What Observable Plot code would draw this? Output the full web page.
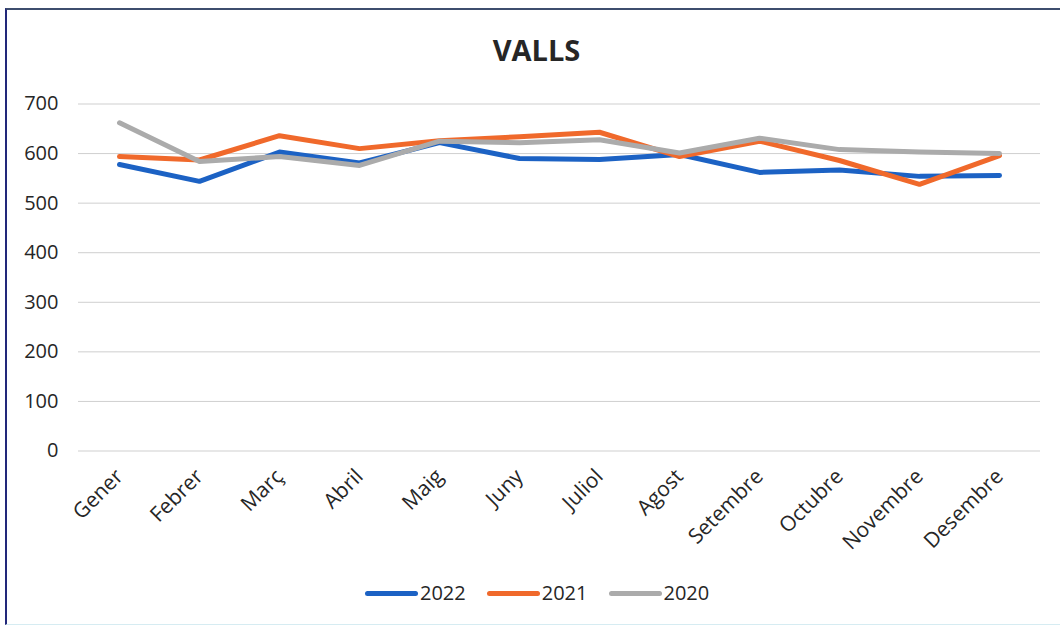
<!DOCTYPE html>
<html>
<head>
<meta charset="utf-8">
<script src="https://cdn.jsdelivr.net/npm/d3@7"></script>
<script src="https://cdn.jsdelivr.net/npm/@observablehq/plot@0.6"></script>
<style>
  html, body { margin: 0; padding: 0; background: #fff; }
  #page { position: relative; width: 1060px; height: 628px; overflow: hidden; background: #fff;
          font-family: "Open Sans", "Liberation Sans", sans-serif; color: #262626; }
  #frame { position: absolute; left: 5px; top: 8px; width: 1055px; height: 617px;
           border-left: 2px solid #22287a; border-top: 2px solid #3e4d6e;
           border-bottom: 1px solid #d6ecf2; box-sizing: border-box; }
  #title { position: absolute; left: 0; top: 35px; width: 1073px; text-align: center;
           font-size: 29px; line-height: 30px; font-weight: 700; color: #262626; }
  #chart { position: absolute; left: 0; top: 0; }
  #legend { position: absolute; left: 365px; top: 580px; display: flex; align-items: center;
            font-size: 20px; line-height: 26px; color: #262626; }
  .item { display: flex; align-items: center; margin-right: 21px; }
  .swatch { width: 53px; height: 5px; border-radius: 2.5px; margin-right: 2px; }
</style>
</head>
<body>
<div id="page">
  <div id="frame"></div>
  <div id="chart"></div>
  <div id="title">VALLS</div>
  <div id="legend"></div>
</div>
<script>
// Months on the x axis
const months = ["Gener", "Febrer", "Març", "Abril", "Maig", "Juny", "Juliol",
                "Agost", "Setembre", "Octubre", "Novembre", "Desembre"];

// Monthly values per year
const values2022 = [578, 544, 603, 581, 622, 590, 588, 598, 562, 567, 554, 556];
const values2021 = [594, 587, 636, 610, 626, 634, 643, 594, 625, 586, 538, 596];
const values2020 = [662, 584, 594, 576, 625, 622, 628, 601, 631, 608, 603, 600];

// Series names and colours
const years = ["2022", "2021", "2020"];
const colors = ["#1c62c4", "#f0692b", "#ababab"];

// Y axis ticks
const yTicks = [0, 100, 200, 300, 400, 500, 600, 700];

const seriesValues = [values2022, values2021, values2020];
const rows = years.flatMap((year, i) =>
  months.map((month, j) => ({ year, month, value: seriesValues[i][j] }))
);

const chart = Plot.plot({
  width: 1060,
  height: 575,
  marginLeft: 78,
  marginRight: 20,
  marginTop: 103.5,
  marginBottom: 124.5,
  style: { fontFamily: "'Open Sans', 'Liberation Sans', sans-serif", color: "#262626", background: "transparent" },
  x: { type: "point", domain: months, padding: 0.5 },
  y: { domain: [0, 700] },
  color: { domain: years, range: colors },
  marks: [
    Plot.gridY(yTicks, { stroke: "#cfcfcf", strokeOpacity: 1, strokeWidth: 1 }),
    Plot.axisY(yTicks, { tickSize: 0, tickPadding: 20, label: null, fontSize: 20 }),
    Plot.axisX({ tickSize: 0, tickPadding: 22, tickRotate: -45, label: null, fontSize: 21 }),
    Plot.line(rows, {
      x: "month", y: "value", z: "year", stroke: "year",
      strokeWidth: 5, strokeLinejoin: "round", strokeLinecap: "round"
    })
  ]
});
document.getElementById("chart").appendChild(chart);

// Legend below the plot
const legend = d3.select("#legend");
years.forEach((year, i) => {
  const item = legend.append("div").attr("class", "item");
  item.append("div").attr("class", "swatch").style("background", colors[i]);
  item.append("span").text(year);
});
</script>
</body>
</html>
